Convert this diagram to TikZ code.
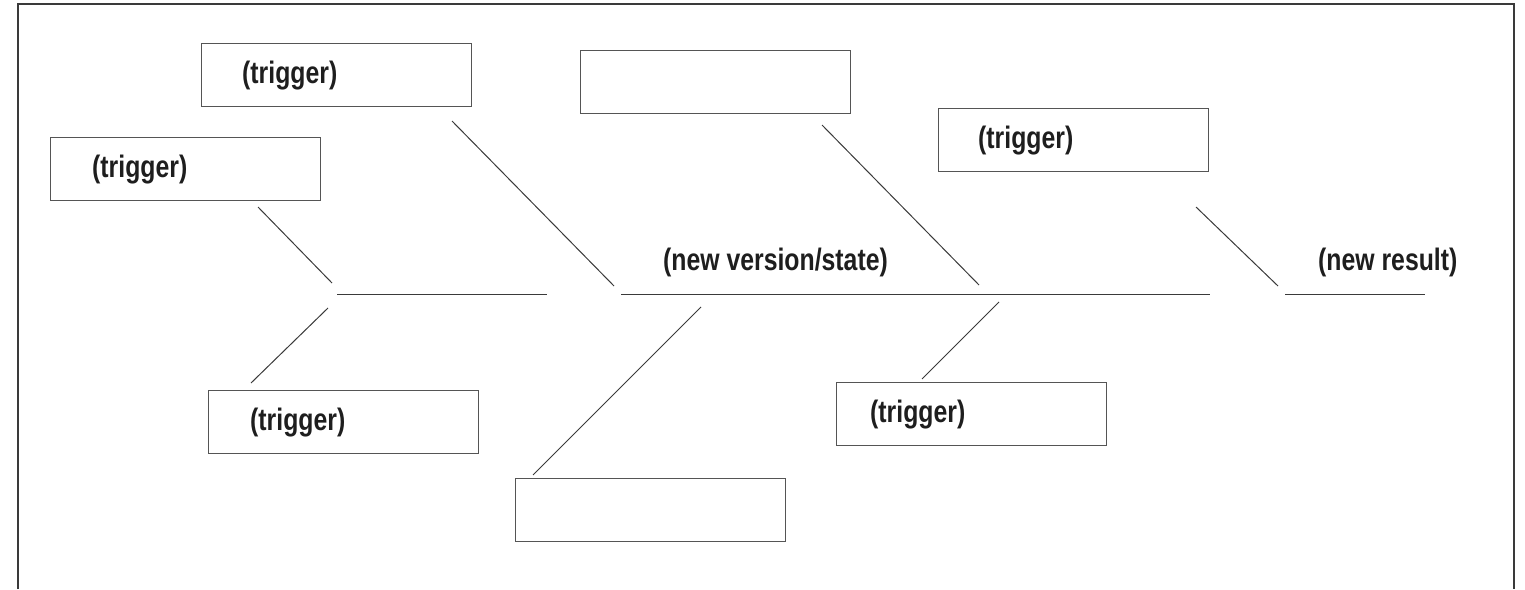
\documentclass[tikz,border=0pt]{standalone}
\usepackage{fontspec}
\setmainfont{Liberation Sans}[FakeStretch=0.8]
\definecolor{ink}{HTML}{1E1E1E}
\definecolor{boxgray}{HTML}{555555}
\definecolor{linegray}{HTML}{3A3A3A}
\begin{document}
\begin{tikzpicture}[x=1pt,y=-1pt,
  box/.style={draw=boxgray, line width=1.3pt, minimum width=270pt, minimum height=63pt, inner sep=0pt, anchor=north west},
  lbl/.style={font=\fontsize{31}{31}\selectfont\bfseries, text=ink, inner sep=0pt, anchor=west},
  bone/.style={draw=linegray, line width=1pt},
  frame/.style={draw=linegray, line width=2pt}]
\useasboundingbox (0,0) rectangle (1525,589);

% outer frame (open at the bottom)
\draw[frame] (18,589) -- (18,3.5) -- (1514,3.5) -- (1514,589);

% cause boxes
\node[box] (b1) at (201,43)  {};
\node[box] (b2) at (50,137)  {};
\node[box] (b3) at (580,50)  {};
\node[box] (b4) at (938,108) {};
\node[box] (b5) at (208,390) {};
\node[box] (b6) at (515,478) {};
\node[box] (b7) at (836,382) {};

% box captions
\node[lbl] (t1) at ([xshift=41pt]b1.west) {(trigger)};
\node[lbl] (t2) at ([xshift=42pt]b2.west) {(trigger)};
\node[lbl] (t4) at ([xshift=40pt]b4.west) {(trigger)};
\node[lbl] (t5) at ([xshift=42pt]b5.west) {(trigger)};
\node[lbl] (t7) at ([xshift=34pt]b7.west) {(trigger)};

% spine labels
\node[lbl] (state)  at (663,262) {(new version/state)};
\node[lbl] (result) at (1318,262) {(new result)};

% spine segments
\coordinate (s1a) at (337,294);  \coordinate (s1b) at (547,294);
\coordinate (s2a) at (621,294);  \coordinate (s2b) at (1210,294);
\coordinate (s3a) at (1285,294); \coordinate (s3b) at (1425,294);
\draw[bone] (s1a) -- (s1b);
\draw[bone] (s2a) -- (s2b);
\draw[bone] (s3a) -- (s3b);

% ribs from the boxes towards the spine
\coordinate (r1a) at (258,207);  \coordinate (r1b) at (332,283);
\coordinate (r2a) at (328,308);  \coordinate (r2b) at (251,383);
\coordinate (r3a) at (452,121);  \coordinate (r3b) at (614,286);
\coordinate (r4a) at (701,307);  \coordinate (r4b) at (533,475);
\coordinate (r5a) at (822,125);  \coordinate (r5b) at (979,285);
\coordinate (r6a) at (999,302);  \coordinate (r6b) at (922,379);
\coordinate (r7a) at (1196,207); \coordinate (r7b) at (1278,286);
\foreach \r in {r1,r2,r3,r4,r5,r6,r7}
  \draw[bone] (\r a) -- (\r b);
\end{tikzpicture}
\end{document}
